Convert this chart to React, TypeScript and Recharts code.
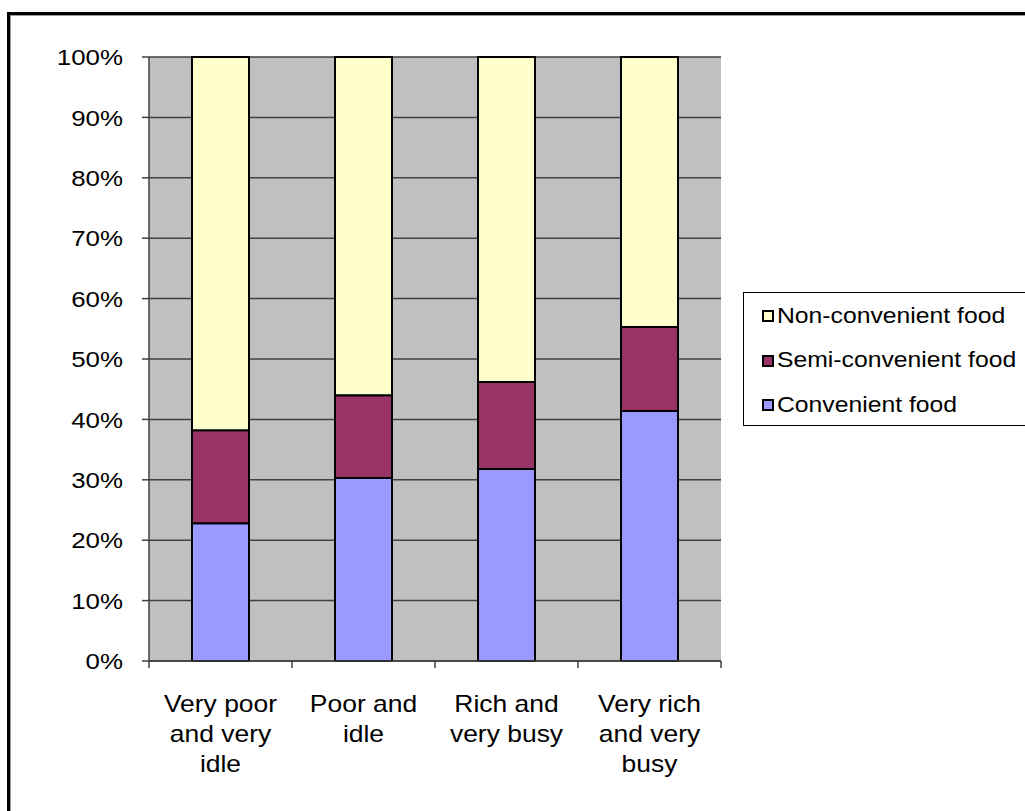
import { BarChart, Bar, XAxis, YAxis, CartesianGrid } from "recharts";

const categories = [
  "Very poor\nand very\nidle",
  "Poor and\nidle",
  "Rich and\nvery busy",
  "Very rich\nand very\nbusy",
];
const convenient = [22.8, 30.3, 31.8, 41.4];
const semiConvenient = [15.4, 13.7, 14.4, 13.9];
const nonConvenient = [61.8, 56.0, 53.8, 44.7];
const yTicks = [0, 10, 20, 30, 40, 50, 60, 70, 80, 90, 100];

const series = [
  { key: "non", name: "Non-convenient food", color: "#FFFFCC" },
  { key: "semi", name: "Semi-convenient food", color: "#993366" },
  { key: "conv", name: "Convenient food", color: "#9999FF" },
];

const data = categories.map((name, i) => ({
  name,
  conv: convenient[i],
  semi: semiConvenient[i],
  non: nonConvenient[i],
}));

const FONT = "'Liberation Sans', Arial, sans-serif";
const STRETCH = 1.15;
const AXIS = "#404040";

function YTick(props: any) {
  const { x, y, payload } = props;
  return (
    <g transform={`translate(${x},${y})`}>
      <text
        textAnchor="end"
        dy="0.36em"
        fontSize={22.5}
        fill="#000"
        fontFamily={FONT}
        transform={`scale(${STRETCH},1)`}
      >
        {payload.value}%
      </text>
    </g>
  );
}

// category label plus the tick marks at the band edges (Excel puts them between categories)
function CatTick(props: any) {
  const { x, y, payload, index } = props;
  const half = payload && typeof payload.offset === "number" && payload.offset > 0 ? payload.offset : 71.5;
  const lines = String(payload.value).split("\n");
  const last = index === categories.length - 1;
  return (
    <g transform={`translate(${x},${y})`}>
      <line x1={-half} x2={-half} y1={0} y2={7} stroke={AXIS} strokeWidth={1.5} />
      {last && <line x1={half} x2={half} y1={0} y2={7} stroke={AXIS} strokeWidth={1.5} />}
      <text
        textAnchor="middle"
        fontSize={23}
        fill="#000"
        fontFamily={FONT}
        transform={`scale(${STRETCH},1)`}
      >
        {lines.map((l, i) => (
          <tspan key={i} x={0} dy={i === 0 ? 51 : 30}>
            {l}
          </tspan>
        ))}
      </text>
    </g>
  );
}

export default function App() {
  return (
    <div
      style={{
        position: "absolute",
        left: 0,
        top: 0,
        width: 1025,
        height: 811,
        overflow: "hidden",
        background: "#fff",
        fontFamily: FONT,
      }}
    >
      {/* frame, only top and left edges are visible */}
      <div
        style={{
          position: "absolute",
          left: 7,
          top: 12,
          width: 1100,
          height: 900,
          borderTop: "3px solid #000",
          borderLeft: "3px solid #000",
        }}
      >
        <div
          style={{
            width: "100%",
            height: "100%",
            borderTop: "1.5px solid #999",
            borderLeft: "1.5px solid #999",
          }}
        />
      </div>

      <div style={{ position: "absolute", left: 0, top: 0 }}>
        <BarChart
          width={1025}
          height={811}
          data={data}
          margin={{ top: 57, right: 304, bottom: 10, left: 0 }}
        >
          <CartesianGrid
            vertical={false}
            fill="#C0C0C0"
            stroke={AXIS}
            strokeWidth={1.5}
          />
          <XAxis
            dataKey="name"
            height={140}
            tickSize={0}
            tickMargin={0}
            axisLine={{ stroke: AXIS, strokeWidth: 1.5 }}
            tickLine={false}
            interval={0}
            tick={<CatTick />}
          />
          <YAxis
            width={149}
            domain={[0, 100]}
            ticks={yTicks}
            interval={0}
            tickSize={7}
            tickMargin={19}
            axisLine={{ stroke: AXIS, strokeWidth: 1.5 }}
            tickLine={{ stroke: AXIS, strokeWidth: 1.5 }}
            tick={<YTick />}
          />
          <YAxis
            yAxisId="r"
            orientation="right"
            width={0}
            domain={[0, 100]}
            tick={false}
            tickLine={false}
            axisLine={{ stroke: "#808080", strokeWidth: 2 }}
          />
          <Bar dataKey="conv" stackId="a" fill="#9999FF" stroke="#000" strokeWidth={2} barSize={57} isAnimationActive={false} />
          <Bar dataKey="semi" stackId="a" fill="#993366" stroke="#000" strokeWidth={2} barSize={57} isAnimationActive={false} />
          <Bar dataKey="non" stackId="a" fill="#FFFFCC" stroke="#000" strokeWidth={2} barSize={57} isAnimationActive={false} />
        </BarChart>
      </div>

      {/* legend */}
      <div
        style={{
          position: "absolute",
          left: 743,
          top: 292,
          width: 290,
          height: 134,
          border: "1px solid #000",
          background: "#fff",
          boxSizing: "border-box",
        }}
      >
        {series.map((s, i) => (
          <div
            key={s.key}
            style={{
              position: "absolute",
              left: 18,
              top: 12 + i * 44.5,
              height: 22,
              display: "flex",
              alignItems: "center",
              whiteSpace: "nowrap",
            }}
          >
            <span
              style={{
                display: "inline-block",
                width: 8,
                height: 8,
                border: "2px solid #000",
                background: s.color,
                marginRight: 3,
              }}
            />
            <span
              style={{
                display: "inline-block",
                fontSize: 21.5,
                color: "#000",
                transform: `scaleX(${STRETCH})`,
                transformOrigin: "left center",
              }}
            >
              {s.name}
            </span>
          </div>
        ))}
      </div>
    </div>
  );
}
